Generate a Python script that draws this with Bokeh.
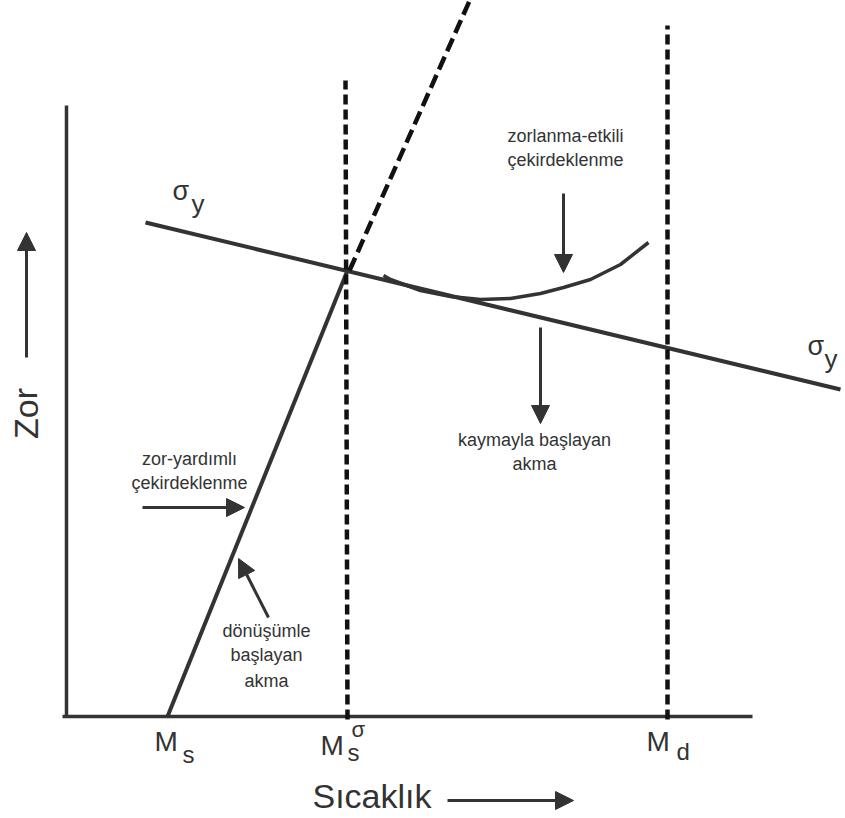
from bokeh.plotting import figure
from bokeh.models import Range1d, Arrow, NormalHead
from bokeh.core.properties import value
from bokeh.embed import file_html
from bokeh.resources import INLINE

# Schematic stress–temperature diagram (temperature T to the right, stress S upward)
FONT = "Liberation Sans"
INK = "#333333"
DASH_INK = "#111111"

# Characteristic temperatures on the temperature axis
MS = 101
MS_SIGMA = 281
MD = 601

# Axis extents
T_AXIS = [-4, 686]
S_AXIS = [0, 611]

# Yield stress line sigma_y (falls with temperature)
yield_T = [79, 774]
yield_S = [494, 327]

# Stress needed for stress-assisted transformation: from Ms up to Ms^sigma
trans_T = [MS, MS_SIGMA]
trans_S = [0, 446]

# Continuation of the transformation line above sigma_y
ext_T = [283, 405]
ext_S = [446, 720]

# Ms^sigma and Md boundaries
ms_sigma_T = [MS_SIGMA, MS_SIGMA - 2]
ms_sigma_S = [-3, 636]
md_T = [MD, MD]
md_S = [-3, 691]

# Strain-induced nucleation curve
curve_T = [317, 324, 354, 384, 414, 444, 474, 497, 524, 554, 582]
curve_S = [441, 437, 426, 420, 417, 418, 423, 429, 437, 452, 474]

p = figure(width=845, height=818,
           x_range=Range1d(-66, 779), y_range=Range1d(-102, 716),
           min_border=0, min_border_left=0, min_border_right=0,
           min_border_top=0, min_border_bottom=0,
           toolbar_location=None, output_backend="svg")
p.axis.visible = False
p.grid.visible = False
p.outline_line_color = None
p.background_fill_color = "white"
p.border_fill_color = "white"

# Axes
p.line([0, 0], S_AXIS, line_color=INK, line_width=3.5)
p.line(T_AXIS, [0, 0], line_color=INK, line_width=3.5)

# Solid curves
p.line(yield_T, yield_S, line_color=INK, line_width=4)
p.line(trans_T, trans_S, line_color=INK, line_width=4)
p.line(curve_T, curve_S, line_color=INK, line_width=3.5)

# Dashed boundaries
p.line(ms_sigma_T, ms_sigma_S, line_color=DASH_INK, line_width=4.5, line_dash="10 5")
p.line(md_T, md_S, line_color=DASH_INK, line_width=4.5, line_dash="10 5")
p.line(ext_T, ext_S, line_color=DASH_INK, line_width=4.5, line_dash="14 6")

# Pointer arrows
arrows = [
    (497, 523, 497, 444),   # strain-induced nucleation
    (474, 389, 474, 293),   # slip-initiated yielding
    (76, 209, 178, 209),    # stress-assisted nucleation
    (202, 99, 172, 158),    # transformation-initiated yielding
    (-40, 359, -40, 484),   # stress axis direction
    (381, -84, 507, -84),   # temperature axis direction
]
for xs, ys, xe, ye in arrows:
    p.add_layout(Arrow(end=NormalHead(size=18, fill_color=INK, line_color=INK, line_width=1),
                       x_start=xs, y_start=ys, x_end=xe, y_end=ye,
                       line_color=INK, line_width=3))

def label(x, y, txt, size, align="left", angle=0.0, color=INK):
    p.text(x=[x], y=[y], text=[txt], text_font=value(FONT),
           text_font_size=value(f"{size}px"), text_color=color,
           text_align=align, text_baseline="alphabetic", angle=angle)

# Annotations
label(499, 581, "zorlanma-etkili", 18, "center")
label(499, 557, "çekirdeklenme", 18, "center")
label(468, 277, "kaymayla başlayan", 18, "center")
label(468, 253, "akma", 18, "center")
label(123, 258, "zor-yardımlı", 18, "center")
label(123, 234, "çekirdeklenme", 18, "center")
label(200, 86, "dönüşümle", 18, "center")
label(200, 62, "başlayan", 18, "center")
label(200, 36, "akma", 18, "center")

# sigma_y labels
label(106, 526, "σ", 27)
label(125, 513, "y", 26)
label(741, 371, "σ", 27)
label(758, 358, "y", 26)

# Temperature markers
label(88, -25, "M", 28)
label(116, -38, "s", 24)
label(254, -29, "M", 28)
label(281, -36, "s", 24)
label(285, -13, "σ", 22)
label(580, -25, "M", 28)
label(610, -35, "d", 24)

# Axis titles
label(246, -79, "Sıcaklık", 34)
label(-41, 303, "Zor", 34, "center", angle=1.5708)

open("out.html", "w").write(file_html(p, INLINE))
